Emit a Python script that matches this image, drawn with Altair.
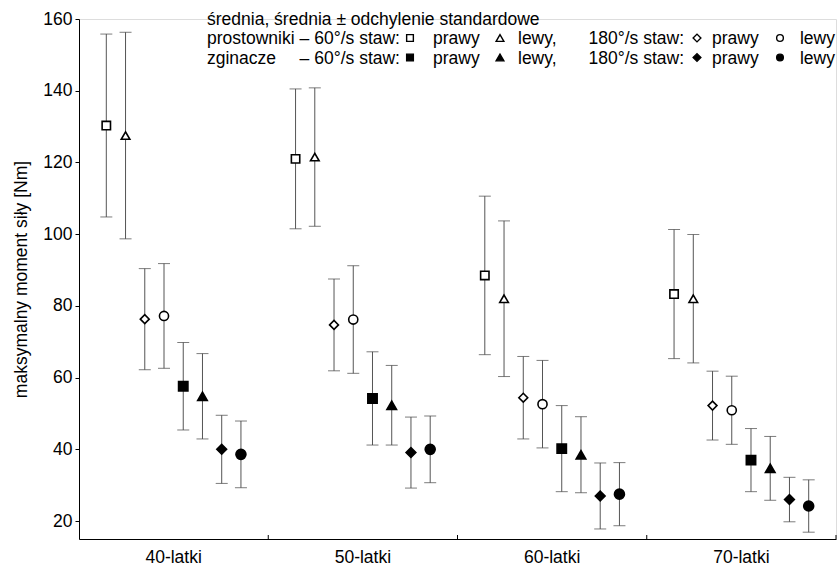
import altair as alt
import pandas as pd

FONT = "Liberation Sans"
FS = 17.5

# ---------------- data ----------------
groups = ["40-latki", "50-latki", "60-latki", "70-latki"]
series = ["prostowniki 60 prawy", "prostowniki 60 lewy",
          "prostowniki 180 prawy", "prostowniki 180 lewy",
          "zginacze 60 prawy", "zginacze 60 lewy",
          "zginacze 180 prawy", "zginacze 180 lewy"]

mean_40 = [130.3, 127.5, 76.3, 77.2, 57.6, 54.8, 40.0, 38.6]
sd_40 = [25.5, 28.8, 14.1, 14.6, 12.2, 11.9, 9.5, 9.3]
mean_50 = [121.0, 121.5, 74.7, 76.2, 54.2, 52.3, 39.1, 40.0]
sd_50 = [19.5, 19.3, 12.8, 15.0, 13.0, 11.1, 9.9, 9.3]
mean_60 = [88.5, 82.0, 54.4, 52.6, 40.2, 38.5, 27.0, 27.5]
sd_60 = [22.1, 21.7, 11.5, 12.2, 12.0, 10.6, 9.2, 8.8]
mean_70 = [83.3, 82.0, 52.2, 50.9, 37.0, 34.7, 26.0, 24.2]
sd_70 = [18.0, 17.9, 9.6, 9.5, 8.8, 8.9, 6.2, 7.3]

y_ticks = [20, 40, 60, 80, 100, 120, 140, 160]
y_title = "maksymalny moment siły [Nm]"

legend_title = "średnia, średnia ± odchylenie standardowe"
row_names = ["prostowniki", "zginacze"]
speed_labels = ["– 60°/s staw:", "180°/s staw:"]
side_labels = ["prawy", "lewy,", "prawy", "lewy"]

# ---------------- styles ----------------
shapes = ["square", "triangle-up", "diamond", "circle"] * 2
fills = ["white"] * 4 + ["black"] * 4
sizes = [70, 100, 115, 75, 75, 100, 115, 80]

means = [mean_40, mean_50, mean_60, mean_70]
sds = [sd_40, sd_50, sd_60, sd_70]
rows = []
for g, m_list, s_list in zip(groups, means, sds):
    for s, m, sd in zip(series, m_list, s_list):
        rows.append({"grupa": g, "seria": s, "mean": m, "lo": m - sd, "hi": m + sd})
df = pd.DataFrame(rows)
gdf = pd.DataFrame({"grupa": groups})

L, T, R, B = 79, 19, 3, 27
W, H = 839 - L - R, 566 - T - B

x_scale = alt.Scale(domain=groups, paddingInner=0, paddingOuter=0)
x_axis = alt.Axis(title=None, ticks=False, labelAngle=0, labelFontSize=FS, labelFont=FONT,
                  labelColor="black", labelPadding=9, domainColor="black", domainWidth=1)
y_scale = alt.Scale(domain=[15, 160], nice=False, zero=False)
y_axis = alt.Axis(values=y_ticks, grid=False, tickSize=4, tickColor="black", domainColor="black",
                  labelFontSize=FS, labelFont=FONT, labelColor="black", labelPadding=3,
                  title=y_title, titleFont=FONT, titleFontSize=FS, titleFontWeight="normal",
                  titleColor="black", titlePadding=12)
xo = alt.XOffset("seria:N", scale=alt.Scale(domain=series, paddingInner=0, paddingOuter=0.92))

X = alt.X("grupa:N", scale=x_scale, axis=x_axis, sort=groups)

base = alt.Chart(df).encode(x=X, xOffset=xo)

bars = base.mark_rule(color="#555555", strokeWidth=1).encode(
    y=alt.Y("lo:Q", scale=y_scale, axis=y_axis), y2="hi:Q")
cap_lo = base.mark_tick(orient="horizontal", size=12, thickness=1, color="#444444").encode(
    y=alt.Y("lo:Q", scale=y_scale, axis=y_axis))
cap_hi = base.mark_tick(orient="horizontal", size=12, thickness=1, color="#444444").encode(
    y=alt.Y("hi:Q", scale=y_scale, axis=y_axis))
pts = base.mark_point(filled=True, opacity=1, strokeWidth=1.6).encode(
    y=alt.Y("mean:Q", scale=y_scale, axis=y_axis),
    shape=alt.Shape("seria:N", scale=alt.Scale(domain=series, range=shapes), legend=None),
    fill=alt.Fill("seria:N", scale=alt.Scale(domain=series, range=fills), legend=None),
    size=alt.Size("seria:N", scale=alt.Scale(domain=series, range=sizes), legend=None),
    stroke=alt.value("black"),
)

ticks = alt.Chart(gdf).mark_rule(color="black", strokeWidth=1).encode(
    x=alt.X("grupa:N", scale=x_scale, axis=x_axis, sort=groups, bandPosition=1),
    y=alt.value(H), y2=alt.value(H - 4))

one = pd.DataFrame({"a": [0]})


def txt(s, x, y, align="left"):
    return alt.Chart(one).mark_text(align=align, baseline="alphabetic", font=FONT, fontSize=FS,
                                    color="black").encode(
        x=alt.value(x - L), y=alt.value(y - T), text=alt.value(s))


def sym(shape, fill, x, y, size):
    return alt.Chart(one).mark_point(shape=shape, filled=True, fill=fill, stroke="black",
                                     strokeWidth=1.4, size=size, opacity=1).encode(
        x=alt.value(x - L), y=alt.value(y - T))


legend_layers = [txt(legend_title, 207, 24.5)]
row_base = [44, 63.5]
sym_x = [410, 500, 697, 780]
sym_sizes = [45, 60, 60, 45]
for r in range(2):
    yb = row_base[r]
    legend_layers.append(txt(row_names[r], 207, yb))
    legend_layers.append(txt(speed_labels[0], 400, yb, "right"))
    legend_layers.append(txt(speed_labels[1], 684, yb, "right"))
    legend_layers.append(txt(side_labels[0], 433, yb))
    legend_layers.append(txt(side_labels[1], 518, yb))
    legend_layers.append(txt(side_labels[2], 712, yb))
    legend_layers.append(txt(side_labels[3], 835, yb, "right"))
    for k in range(4):
        legend_layers.append(sym(shapes[r * 4 + k], fills[r * 4 + k], sym_x[k], yb - 6, sym_sizes[k]))

chart = alt.layer(bars, cap_lo, cap_hi, pts, ticks, *legend_layers).properties(
    width=W, height=H,
    autosize=alt.AutoSizeParams(type="none"),
    padding={"left": L, "top": T, "right": R, "bottom": B},
).configure_view(stroke=None).configure(background="white")

chart.save("out.html", embed_options={"renderer": "svg", "actions": False})
